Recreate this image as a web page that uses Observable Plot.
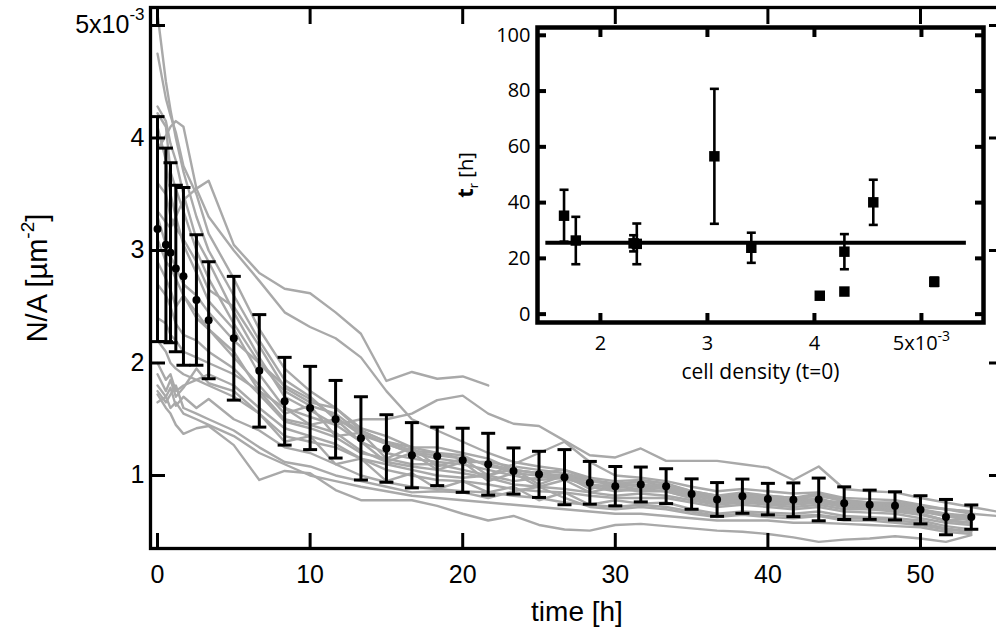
<!DOCTYPE html>
<html><head><meta charset="utf-8">
<script src="https://cdn.jsdelivr.net/npm/d3@7"></script>
<script src="https://cdn.jsdelivr.net/npm/@observablehq/plot@0.6"></script>
<style>
html,body{margin:0;padding:0;background:#fff;overflow:hidden;width:996px;height:639px;}
#wrap{position:relative;width:996px;height:639px;overflow:hidden;}
#main{position:absolute;left:0;top:0;width:1010px;}
#inset{position:absolute;left:440px;top:0;width:556px;}
#wrap svg{overflow:visible;max-width:none !important;}
</style></head><body><div id="wrap"><div id="main"></div><div id="inset"></div></div>
<script>
// ---------- main panel: mean cell density vs time ----------
const meanTimes = [0, 0.55, 0.85, 1.2, 1.7, 2.55, 3.35, 5, 6.67, 8.33, 10, 11.67, 13.33, 15, 16.67, 18.33, 20, 21.67, 23.33, 25, 26.67, 28.33, 30, 31.67, 33.33, 35, 36.67, 38.33, 40, 41.67, 43.33, 45, 46.67, 48.33, 50, 51.67, 53.33];
const meanValues = [3.19, 3.05, 2.98, 2.84, 2.77, 2.56, 2.38, 2.22, 1.93, 1.66, 1.60, 1.50, 1.33, 1.24, 1.18, 1.17, 1.135, 1.10, 1.04, 1.01, 0.985, 0.935, 0.905, 0.92, 0.905, 0.835, 0.787, 0.816, 0.79, 0.784, 0.787, 0.754, 0.74, 0.73, 0.695, 0.63, 0.63];
const meanErrors = [1.0, 0.86, 0.8, 0.74, 0.79, 0.58, 0.52, 0.55, 0.5, 0.39, 0.37, 0.345, 0.37, 0.30, 0.29, 0.26, 0.285, 0.275, 0.205, 0.205, 0.245, 0.19, 0.175, 0.155, 0.155, 0.135, 0.15, 0.152, 0.14, 0.15, 0.19, 0.145, 0.13, 0.125, 0.125, 0.157, 0.108];

const lineTimes = [0, 0.55, 0.85, 1.2, 1.7, 2.55, 3.35, 5, 6.67, 8.33, 10, 11.67, 13.33, 15, 16.67, 18.33, 20, 21.67, 23.33, 25, 26.67, 28.33, 30, 31.67, 33.33, 35, 36.67, 38.33, 40, 41.67, 43.33, 45, 46.67, 48.33, 50, 51.67, 53.33, 55];
const traj01 = [5.1, 4.5, 4.25, 4.0, 3.7, 3.3, 3.0, 2.6, 2.2, 1.85, 1.7, 1.5, 1.4, 1.3, 1.22, 1.2, 1.15, 1.1, 1.02, 1.0, 0.97, 0.92, 0.9, 0.92, 0.88, 0.82, 0.8, 0.82, 0.8, 0.78, 0.76, 0.74, 0.72, 0.71, 0.68, 0.65, 0.6];
const traj02 = [4.75, 4.35, 4.2, 4.05, 3.75, 3.5, 3.15, 2.75, 2.3, 1.95, 1.75, 1.6, 1.42, 1.35, 1.25, 1.2, 1.18, 1.08, 1.05, 1.02, 1.0, 0.95, 0.92, 0.95, 0.9, 0.85, 0.8, 0.84, 0.82, 0.8, 0.82, 0.78, 0.76, 0.75, 0.72, 0.7, 0.66, 0.64];
const traj03 = [4.28, 4.15, 3.95, 3.8, 3.5, 3.1, 2.9, 2.45, 2.05, 1.7, 1.58, 1.45, 1.3, 1.2, 1.15, 1.12, 1.1, 1.05, 1.0, 0.96, 0.98, 0.9, 0.86, 0.88, 0.9, 0.8, 0.76, 0.8, 0.77, 0.76, 0.8, 0.73, 0.72, 0.7, 0.66, 0.6, 0.62];
const traj04 = [4.22, 4.1, 3.7, 3.55, 3.35, 3.0, 2.75, 2.35, 2.0, 1.75, 1.62, 1.55, 1.38, 1.28, 1.2, 1.15, 1.12, 1.12, 1.08, 1.05, 1.02, 0.96, 0.93, 0.9, 0.92, 0.86, 0.82, 0.8, 0.8, 0.8, 0.78, 0.76, 0.75, 0.73, 0.7, 0.66, 0.64];
const traj05 = [3.9, 4.02, 4.1, 4.15, 4.1, 3.55, 3.3, 3.0, 2.73, 2.45, 2.32, 2.22, 2.05, 1.75, 1.5, 1.4, 1.3, 1.2, 1.12, 1.08, 1.05, 0.98, 0.95, 0.96, 0.93, 0.86, 0.82, 0.85, 0.82, 0.8, 0.84, 0.78, 0.76, 0.76, 0.73, 0.7, 0.68];
const traj06 = [4.1, 3.8, 3.5, 3.3, 3.05, 2.8, 2.55, 2.3, 1.9, 1.6, 1.45, 1.5, 1.3, 1.12, 1.2, 1.05, 1.12, 0.95, 1.02, 0.9, 0.96, 0.85, 0.9, 0.88, 0.86, 0.8, 0.75, 0.78, 0.75, 0.74, 0.76, 0.72, 0.7, 0.7, 0.66, 0.6, 0.58];
const traj07 = [3.6, 3.5, 3.3, 3.2, 3.1, 2.9, 2.65, 2.5, 2.15, 1.78, 1.65, 1.6, 1.4, 1.3, 1.25, 1.25, 1.2, 1.15, 1.05, 1.02, 1.05, 0.96, 0.92, 0.95, 0.93, 0.84, 0.8, 0.83, 0.8, 0.8, 0.82, 0.77, 0.75, 0.74, 0.7, 0.65, 0.64];
const traj08 = [3.35, 3.25, 3.2, 3.3, 3.45, 3.55, 3.62, 3.05, 2.8, 2.66, 2.62, 2.45, 2.26, 1.84, 1.92, 1.86, 1.88, 1.8];
const traj09 = [3.3, 3.05, 2.95, 2.85, 2.7, 2.6, 2.45, 2.2, 2.0, 1.8, 1.68, 1.52, 1.36, 1.28, 1.2, 1.18, 1.15, 1.1, 1.05, 1.02, 0.98, 0.95, 0.92, 0.92, 0.9, 0.84, 0.79, 0.82, 0.79, 0.78, 0.78, 0.75, 0.74, 0.73, 0.7, 0.64];
const traj10 = [3.1, 2.9, 2.85, 2.75, 2.6, 2.45, 2.3, 2.05, 1.8, 1.55, 1.62, 1.35, 1.38, 1.15, 1.25, 1.08, 1.15, 1.0, 1.06, 0.92, 1.0, 0.88, 0.94, 0.9, 0.88, 0.82, 0.78, 0.8, 0.78, 0.77, 0.76, 0.74, 0.73, 0.72, 0.69, 0.66, 0.62];
const traj11 = [2.9, 2.75, 2.65, 2.5, 2.6, 2.4, 2.3, 2.1, 1.75, 1.5, 1.45, 1.38, 1.22, 1.12, 1.08, 1.05, 1.02, 0.98, 0.92, 0.9, 0.88, 0.85, 0.82, 0.84, 0.82, 0.78, 0.74, 0.76, 0.74, 0.72, 0.74, 0.7, 0.7, 0.68, 0.65, 0.6, 0.58];
const traj12 = [2.7, 2.6, 2.5, 2.35, 2.25, 2.2, 2.1, 1.95, 1.72, 1.48, 1.42, 1.34, 1.2, 1.15, 1.1, 1.1, 1.05, 1.0, 0.95, 0.98, 1.0, 0.92, 0.88, 0.86, 0.86, 0.8, 0.76, 0.78, 0.76, 0.75, 0.76, 0.73, 0.72, 0.71, 0.68, 0.64, 0.6];
const traj13 = [2.4, 2.35, 2.25, 2.2, 2.1, 2.05, 2.0, 1.9, 1.75, 1.6, 1.52, 1.45, 1.5, 1.5, 1.55, 1.67, 1.71, 1.55, 1.46, 1.44, 1.31, 1.18, 1.16, 1.24, 1.13, 1.13, 1.13, 1.1, 1.07, 0.96, 1.08, 0.88, 0.86, 0.85, 0.8, 0.76, 0.72, 0.68];
const traj14 = [2.2, 2.1, 2.0, 1.95, 1.9, 1.85, 1.8, 1.7, 1.55, 1.35, 1.3, 1.25, 1.15, 1.1, 1.05, 1.0, 0.98, 1.0, 1.1, 1.2, 1.3, 1.12, 1.0, 0.98, 0.95, 0.9, 0.86, 0.88, 0.86, 0.84, 0.85, 0.8, 0.79, 0.78, 0.74, 0.7, 0.68];
const traj15 = [2.0, 1.85, 1.9, 1.75, 1.8, 1.85, 1.9, 1.8, 1.6, 1.42, 1.35, 1.28, 1.15, 1.05, 1.0, 0.96, 0.95, 0.92, 0.88, 0.86, 0.85, 0.82, 0.8, 0.8, 0.8, 0.76, 0.72, 0.74, 0.72, 0.7, 0.72, 0.68, 0.67, 0.66, 0.62, 0.58, 0.56];
const traj16 = [1.9, 1.75, 1.85, 1.7, 1.78, 1.95, 1.82, 1.75, 1.55, 1.3, 1.35, 1.1, 1.15, 0.95, 1.02, 0.88, 0.95, 0.85, 0.9, 0.78, 0.85, 0.74, 0.78, 0.75, 0.76, 0.7, 0.66, 0.68, 0.67, 0.66, 0.68, 0.64, 0.63, 0.62, 0.6, 0.55, 0.52];
const traj17 = [1.8, 1.7, 1.78, 1.62, 1.7, 1.6, 1.68, 1.5, 1.4, 1.25, 1.2, 1.1, 1.0, 0.94, 0.9, 0.88, 0.86, 0.85, 0.82, 0.8, 0.76, 0.74, 0.72, 0.74, 0.72, 0.68, 0.64, 0.66, 0.65, 0.64, 0.65, 0.62, 0.62, 0.6, 0.58, 0.53, 0.5];
const traj18 = [1.75, 1.65, 1.72, 1.8, 1.6, 1.55, 1.5, 1.4, 1.25, 1.12, 1.08, 1.0, 0.95, 0.9, 0.85, 0.86, 0.85, 0.8, 0.86, 0.9, 0.8, 0.72, 0.7, 0.72, 0.7, 0.66, 0.63, 0.65, 0.63, 0.62, 0.64, 0.6, 0.6, 0.58, 0.56, 0.52, 0.5];
const traj19 = [1.72, 1.6, 1.55, 1.45, 1.37, 1.42, 1.44, 1.27, 0.96, 1.04, 1.02, 0.87, 0.78, 0.78, 0.78, 0.73, 0.66, 0.6, 0.64, 0.56, 0.52, 0.51, 0.56, 0.57, 0.55, 0.53, 0.51, 0.5, 0.48, 0.45, 0.41, 0.43, 0.44, 0.46, 0.44, 0.41, 0.47];
const traj20 = [1.65, 1.7, 1.6, 1.65, 1.55, 1.5, 1.45, 1.35, 1.2, 1.1, 1.0, 0.95, 0.9, 0.86, 0.82, 0.8, 0.78, 0.76, 0.74, 0.72, 0.7, 0.68, 0.66, 0.66, 0.64, 0.62, 0.6, 0.6, 0.6, 0.58, 0.58, 0.57, 0.56, 0.55, 0.54, 0.5, 0.48];
const trajectories = [traj01, traj02, traj03, traj04, traj05, traj06, traj07, traj08, traj09, traj10, traj11, traj12, traj13, traj14, traj15, traj16, traj17, traj18, traj19, traj20];

const timeTicks = [0, 10, 20, 30, 40, 50];
const densityTicks = [1, 2, 3, 4, 5];
const densityTickLabels = ["1", "2", "3", "4", "5x10-3"];
const mainXLabel = "time [h]";
const mainYLabel = "N/A [µm-2]";

// ---------- inset: relaxation time vs initial density ----------
const cellDensity = [1.66, 1.77, 2.31, 2.34, 3.065, 3.41, 4.05, 4.28, 4.28, 4.55, 5.12];
const relaxTime = [35.3, 26.4, 25.4, 25.2, 56.6, 23.8, 6.6, 8.1, 22.4, 40.1, 11.6];
const relaxError = [9.3, 8.5, 2.9, 7.3, 24.2, 5.4, null, null, 6.3, 8.1, 1.5];
const fitLevel = [25.6];
const fitFrom = 1.49, fitTo = 5.42;
const insetXTicks = [2, 3, 4, 5];
const insetXTickLabels = ["2", "3", "4", "5x10-3"];
const insetYTicks = [0, 20, 40, 60, 80, 100];
const insetXLabel = "cell density (t=0)";
const insetYLabel = "tr [h]";

// ---------- build rows ----------
const lineRows = [];
trajectories.forEach((arr, id) => arr.forEach((v, i) => { if (v != null) lineRows.push({id, t: lineTimes[i], v}); }));
const meanRows = meanTimes.map((t, i) => ({t, v: meanValues[i], lo: meanValues[i] - meanErrors[i], hi: meanValues[i] + meanErrors[i]}));
const insetRows = cellDensity.map((d, i) => ({d, r: relaxTime[i], e: relaxError[i]}));
const insetErrRows = insetRows.filter(r => r.e != null).map(r => ({d: r.d, lo: r.r - r.e, hi: r.r + r.e}));

const capSymbol = {draw(ctx, size) { const w = Math.sqrt(size / Math.PI); ctx.moveTo(-w, 0); ctx.lineTo(w, 0); }};
const blank = () => "";

const mainFont = "'Liberation Sans', Arial, Helvetica, sans-serif";
const main = Plot.plot({
  width: 1010, height: 639,
  marginLeft: 150, marginRight: 7, marginTop: 7, marginBottom: 91,
  x: {domain: [-0.46, 55.44]},
  y: {domain: [0.351, 5.16]},
  style: {fontFamily: mainFont, fontSize: "25px", color: "black", background: "transparent", overflow: "visible", maxWidth: "none"},
  marks: [
    Plot.line(lineRows, {x: "t", y: "v", z: "id", stroke: "#a9a9a9", strokeWidth: 2.4, strokeLinejoin: "round"}),
    Plot.ruleX(meanRows, {x: "t", y1: "lo", y2: "hi", stroke: "black", strokeWidth: 3}),
    Plot.dot(meanRows, {x: "t", y: "hi", symbol: capSymbol, r: 7, stroke: "black", fill: "none", strokeWidth: 3}),
    Plot.dot(meanRows, {x: "t", y: "lo", symbol: capSymbol, r: 7, stroke: "black", fill: "none", strokeWidth: 3}),
    Plot.dot(meanRows, {x: "t", y: "v", r: 4, fill: "black", stroke: "none"}),
    Plot.frame({stroke: "black", strokeWidth: 3.3}),
    Plot.axisX(timeTicks, {anchor: "bottom", tickSize: -15, strokeWidth: 3, tickFormat: blank, label: null}),
    Plot.axisX(timeTicks, {anchor: "top", tickSize: -16, strokeWidth: 3, tickFormat: blank, label: null}),
    Plot.axisY(densityTicks, {anchor: "left", tickSize: -15, strokeWidth: 3, tickFormat: blank, label: null}),
    Plot.axisY(densityTicks, {anchor: "right", tickSize: -15, strokeWidth: 3, tickFormat: blank, label: null}),
    Plot.axisX(timeTicks, {anchor: "bottom", tickSize: 0, tickPadding: 17, label: null}),
    Plot.axisY(densityTicks, {anchor: "left", tickSize: 0, tickPadding: 6, label: null, tickFormat: d => densityTickLabels[densityTicks.indexOf(d)]}),
    Plot.text([mainXLabel], {frameAnchor: "bottom", dy: 72, text: d => d, fontSize: 28, textAnchor: "middle"}),
    Plot.text([mainYLabel], {frameAnchor: "left", dx: -113, rotate: -90, text: d => d, fontSize: 29, textAnchor: "middle"})
  ]
});
document.getElementById("main").appendChild(main);

const insetFont = "'Open Sans', 'Noto Sans', sans-serif";
const inset = Plot.plot({
  width: 556, height: 400,
  marginLeft: 97, marginTop: 27, marginRight: 13, marginBottom: 78,
  x: {domain: [1.412, 5.58]},
  y: {domain: [-3.0, 102.8]},
  style: {fontFamily: insetFont, fontSize: "20px", color: "black", background: "transparent", overflow: "visible", maxWidth: "none"},
  marks: [
    Plot.ruleY(fitLevel, {y: d => d, x1: fitFrom, x2: fitTo, stroke: "black", strokeWidth: 4}),
    Plot.ruleX(insetErrRows, {x: "d", y1: "lo", y2: "hi", stroke: "black", strokeWidth: 2.6}),
    Plot.dot(insetErrRows, {x: "d", y: "hi", symbol: capSymbol, r: 4.5, stroke: "black", fill: "none", strokeWidth: 2.6}),
    Plot.dot(insetErrRows, {x: "d", y: "lo", symbol: capSymbol, r: 4.5, stroke: "black", fill: "none", strokeWidth: 2.6}),
    Plot.dot(insetRows, {x: "d", y: "r", symbol: "square", r: 5.9, fill: "black", stroke: "none"}),
    Plot.frame({stroke: "black", strokeWidth: 4.5}),
    Plot.axisX(insetXTicks, {anchor: "bottom", tickSize: -9, strokeWidth: 4, tickFormat: blank, label: null}),
    Plot.axisX(insetXTicks, {anchor: "top", tickSize: -9, strokeWidth: 4, tickFormat: blank, label: null}),
    Plot.axisY(insetYTicks, {anchor: "left", tickSize: -9, strokeWidth: 4, tickFormat: blank, label: null}),
    Plot.axisY(insetYTicks, {anchor: "right", tickSize: -9, strokeWidth: 4, tickFormat: blank, label: null}),
    Plot.axisX(insetXTicks, {anchor: "bottom", tickSize: 0, tickPadding: 13, label: null, tickFormat: d => insetXTickLabels[insetXTicks.indexOf(d)]}),
    Plot.axisY(insetYTicks, {anchor: "left", tickSize: 0, tickPadding: 7, label: null}),
    Plot.text([insetXLabel], {frameAnchor: "bottom", dy: 56, text: d => d, fontSize: 21, textAnchor: "middle"}),
    Plot.text([insetYLabel], {frameAnchor: "left", dx: -71, rotate: -90, text: d => d, fontSize: 20, textAnchor: "middle"})
  ]
});
document.getElementById("inset").appendChild(inset);

// superscripts / subscripts
function fixText(svg) {
  svg.querySelectorAll("text").forEach(t => {
    const s = t.textContent;
    if (s === "5x10-3") {
      const big = svg === main;
      t.innerHTML = big ? '5x10<tspan dy="-13" font-size="17">-3</tspan>' : '5x10<tspan dy="-9" font-size="14">-3</tspan>';
    } else if (s === mainYLabel) {
      t.innerHTML = 'N/A [µm<tspan dy="-13" font-size="19">-2</tspan><tspan dy="13">]</tspan>';
    } else if (s === insetYLabel) {
      t.innerHTML = '<tspan font-weight="bold" font-size="22">t</tspan><tspan dy="5" font-size="13">r</tspan><tspan dy="-5"> [h]</tspan>';
    }
  });
}
fixText(main);
fixText(inset);
</script>
</body></html>
